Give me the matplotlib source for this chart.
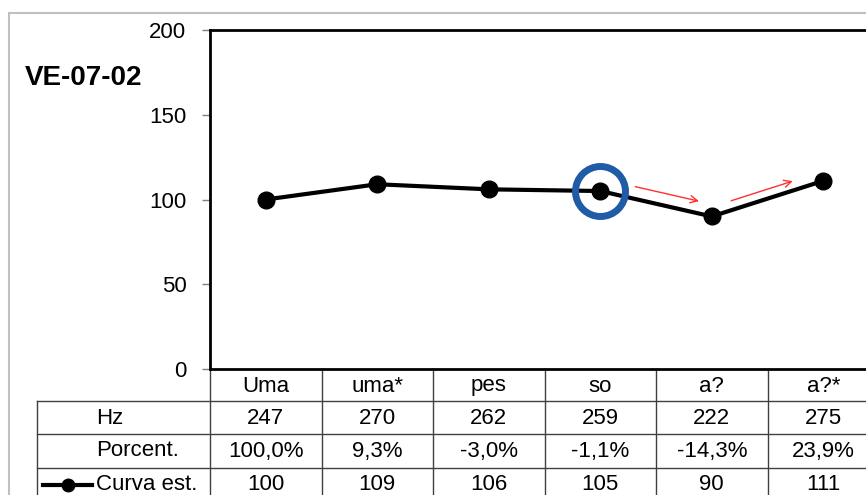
import matplotlib.pyplot as plt
from matplotlib.patches import Rectangle

# data
words = ['Uma', 'uma*', 'pes', 'so', 'a?', 'a?*']
hz = [247, 270, 262, 259, 222, 275]
percent = ['100,0%', '9,3%', '-3,0%', '-1,1%', '-14,3%', '23,9%']
curve = [100, 109, 106, 105, 90, 111]
highlight = 3  # "so" gets the blue ring

plt.rcParams['font.family'] = ['Liberation Sans', 'DejaVu Sans']
FS = 16

fig = plt.figure(figsize=(8.66, 4.95), dpi=100)
W, H = 866, 495

# outer chart border (cut off on right/bottom like the screenshot)
fig.patches.append(Rectangle((9 / W, -0.1), 1.2, (495 - 13) / H + 0.1,
                             transform=fig.transFigure, fill=False,
                             edgecolor='#c0c0c0', lw=1.5))

ax = fig.add_axes([210 / W, (H - 369) / H, 669 / W, 339 / H])
x = list(range(len(words)))

ax.plot(x, curve, color='black', lw=3, marker='o', ms=12, zorder=3)
ax.plot(x[highlight], curve[highlight], marker='o', ms=36, mfc='none',
        mec='#1f5ba6', mew=5, zorder=4)

# red arrows drawn next to the last two segments
def seg_arrow(i, t0, t1, off):
    p0 = (x[i] + t0, curve[i] + t0 * (curve[i + 1] - curve[i]) + off)
    p1 = (x[i] + t1, curve[i] + t1 * (curve[i + 1] - curve[i]) + off)
    ax.annotate('', xy=p1, xytext=p0,
                arrowprops=dict(arrowstyle='->', color='#ff3030', lw=1,
                                mutation_scale=13))

seg_arrow(3, 0.29, 0.91, 7.3)
seg_arrow(4, 0.15, 0.75, 5.6)

ax.set_xlim(-0.5, len(words) - 0.5)
ax.set_ylim(0, 200)
ax.set_yticks([0, 50, 100, 150, 200])
ax.tick_params(axis='y', labelsize=FS, length=6, width=1, color='#808080',
               pad=11)
ax.set_xticks([])
for s in ['left', 'top', 'bottom']:
    ax.spines[s].set_linewidth(2)
ax.spines['right'].set_visible(False)

fig.text(25 / W, (H - 85) / H, 'VE-07-02', fontsize=20, fontweight='bold')

# data table under the axis
tr = ax.get_xaxis_transform()
rows_px = [369, 401, 434, 468, 510]
rows = [(369 - p) / 339 for p in rows_px]
col_left = (37 - 210) / 111.5 - 0.5
line_c = '#404040'

for b in [i - 0.5 for i in range(len(words) + 1)]:
    ax.plot([b, b], [rows[0], rows[-1]], color=line_c, lw=1, transform=tr,
            clip_on=False)
ax.plot([col_left, col_left], [rows[1], rows[-1]], color=line_c, lw=1,
        transform=tr, clip_on=False)
for r in rows[1:4]:
    ax.plot([col_left, len(words) - 0.5], [r, r], color=line_c, lw=1,
            transform=tr, clip_on=False)

row_y = [(369 - 386) / 339, (369 - 418) / 339, (369 - 451) / 339,
         (369 - 485) / 339]
for i, w in enumerate(words):
    ax.text(i, row_y[0], w, ha='center', va='center', fontsize=FS,
            transform=tr)
    ax.text(i, row_y[1], str(hz[i]), ha='center', va='center', fontsize=FS,
            transform=tr)
    ax.text(i, row_y[2], percent[i], ha='center', va='center', fontsize=FS,
            transform=tr)
    ax.text(i, row_y[3], str(curve[i]), ha='center', va='center',
            fontsize=FS, transform=tr)

lab_x = (96 - 210) / 111.5 - 0.5
for ry, lab in zip(row_y[1:], ['Hz', 'Porcent.', 'Curva est.']):
    ax.text(lab_x, ry, lab, ha='left', va='center', fontsize=FS,
            transform=tr)

# legend key in front of "Curva est."
k0 = (43 - 210) / 111.5 - 0.5
k1 = (92 - 210) / 111.5 - 0.5
ax.plot([k0, k1], [row_y[3], row_y[3]], color='black', lw=3, transform=tr,
        clip_on=False)
ax.plot([(k0 + k1) / 2], [row_y[3]], color='black', marker='o', ms=9,
        transform=tr, clip_on=False)

fig.savefig('out.png', dpi=100)
